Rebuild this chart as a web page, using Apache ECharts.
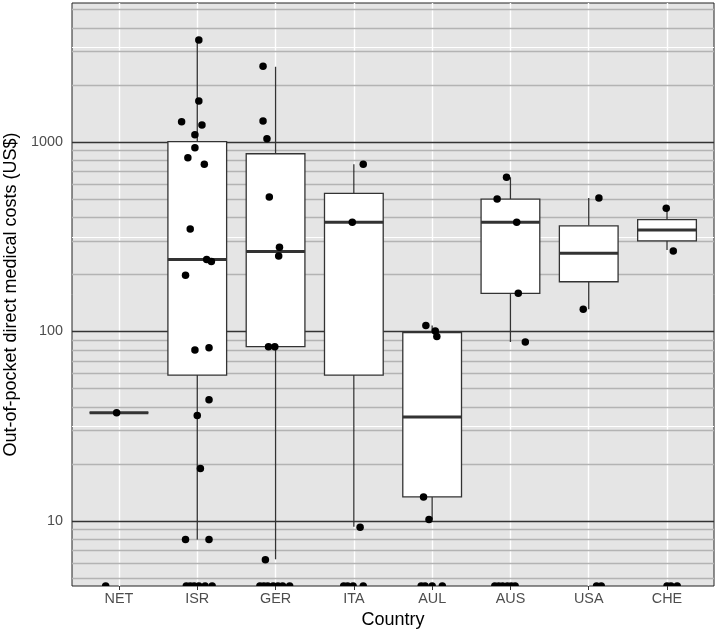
<!DOCTYPE html>
<html lang="en">
<head>
    <meta charset="UTF-8">
    <title>Out-of-pocket costs</title>
    <script src="https://cdn.jsdelivr.net/npm/echarts@6/dist/echarts.min.js"></script>
    <style>
        *{
            margin: 0;
            padding: 0;
        }
        html,body{
            width: 100%;
            height: 100%;
            background: #fff;
        }
        .main{
            width: 717px;
            height: 634px;
        }
    </style>
</head>
<body>
<div class="main"></div>
<script>
    // countries on the x axis
    let countries = ['NET', 'ISR', 'GER', 'ITA', 'AUL', 'AUS', 'USA', 'CHE'];

    // box stats per country: [lower whisker, Q1, median, Q3, upper whisker]
    let boxStats = [
        [37.3, 37.3, 37.3, 37.3, 37.3],
        [8.0, 58.9, 240, 1005, 3450],
        [6.28, 83.2, 264, 867, 2495],
        [9.33, 58.9, 377, 536, 762],
        [10.2, 13.4, 35.4, 98.6, 107.5],
        [88, 159, 377, 500, 651],
        [131, 183, 258.5, 361, 506],
        [269, 301, 343, 389, 447]
    ];

    // jittered points: [x position (category index + jitter), cost]
    let pointsNET = [[-0.03, 37.3]];
    let pointsISR = [[1.02, 3450], [1.02, 1645], [0.80, 1280], [1.06, 1229], [0.97, 1093], [0.97, 933],
        [0.88, 826], [1.09, 762], [0.91, 347], [1.12, 240], [1.18, 234], [0.85, 198], [0.97, 79.9],
        [1.15, 82.1], [1.15, 43.6], [1.00, 36], [1.04, 18.9], [0.85, 8.0], [1.15, 8.0]];
    let pointsGER = [[1.84, 2510], [1.84, 1291], [1.89, 1041], [1.92, 513], [2.05, 278], [2.04, 250],
        [1.91, 83], [1.99, 83], [1.87, 6.25]];
    let pointsITA = [[3.12, 762], [2.98, 377], [3.08, 9.28]];
    let pointsAUL = [[3.92, 107.5], [4.04, 100.6], [4.06, 94], [3.89, 13.4], [3.96, 10.2]];
    let pointsAUS = [[4.95, 651], [4.83, 500], [5.08, 377], [5.10, 159], [5.19, 88]];
    let pointsUSA = [[6.13, 506], [5.93, 131]];
    let pointsCHE = [[6.99, 447], [7.08, 266]];

    // zero costs (drawn on the lower panel edge like ggplot's -Inf): x positions
    let zerosX = [-0.17,
        0.86, 0.91, 0.96, 1.02, 1.10, 1.19,
        1.80, 1.85, 1.90, 1.97, 2.03, 2.09, 2.18,
        2.87, 2.92, 2.99, 3.12,
        3.86, 3.91, 4.00, 4.13,
        4.80, 4.85, 4.90, 4.96, 5.01, 5.06,
        6.10, 6.16,
        7.00, 7.05, 7.13];

    let yMin = 4.54, yMax = 5414;
    let majorLines = [10, 100, 1000];
    let minorLines = [5, 6, 7, 8, 9, 20, 30, 40, 50, 60, 70, 80, 90,
        200, 300, 400, 500, 600, 700, 800, 900, 2000, 3000, 4000, 5000];
    let whiteLines = [31.62, 316.2, 3162];
    let catIdx = countries.map((c, i) => i);

    let points = [].concat(pointsNET, pointsISR, pointsGER, pointsITA, pointsAUL, pointsAUS, pointsUSA, pointsCHE);
    let zeros = zerosX.map(x => [x, yMin]);
    let boxData = boxStats.map((s, i) => [i].concat(s));

    let hLine = (v, color, w) => ({yAxis: v, lineStyle: {color: color, width: w, type: 'solid'}});
    let lineData = [];
    catIdx.forEach(i => lineData.push({xAxis: i, lineStyle: {color: '#ffffff', width: 1.4, type: 'solid'}}));
    whiteLines.forEach(v => lineData.push(hLine(v, '#ffffff', 1)));
    minorLines.forEach(v => lineData.push(hLine(v, '#b3b3b3', 1.3)));
    majorLines.forEach(v => lineData.push(hLine(v, '#333333', 1.3)));

    let main = echarts.init(document.getElementsByClassName('main')[0]);
    let font = "'Liberation Sans', Arial, sans-serif";

    function renderBox(params, api) {
        let x = api.value(0);
        let lo = api.coord([x, api.value(1)]);
        let q1 = api.coord([x, api.value(2)]);
        let med = api.coord([x, api.value(3)]);
        let q3 = api.coord([x, api.value(4)]);
        let hi = api.coord([x, api.value(5)]);
        let left = api.coord([x - 0.375, api.value(3)])[0];
        let right = api.coord([x + 0.375, api.value(3)])[0];
        let stroke = {stroke: '#333333', lineWidth: 1.3};
        return {
            type: 'group',
            children: [
                {type: 'line', shape: {x1: hi[0], y1: hi[1], x2: q3[0], y2: q3[1]}, style: stroke},
                {type: 'line', shape: {x1: q1[0], y1: q1[1], x2: lo[0], y2: lo[1]}, style: stroke},
                {type: 'rect', shape: {x: left, y: q3[1], width: right - left, height: q1[1] - q3[1]},
                    style: {fill: '#ffffff', stroke: '#333333', lineWidth: 1.3}},
                {type: 'line', shape: {x1: left, y1: med[1], x2: right, y2: med[1]},
                    style: {stroke: '#333333', lineWidth: 3}}
            ]
        };
    }

    let option = {
        animation: false,
        backgroundColor: '#ffffff',
        textStyle: {fontFamily: font},
        grid: {
            left: 72,
            right: 3,
            top: 3,
            bottom: 48,
            containLabel: false,
            outerBoundsMode: 'none',
            show: true,
            backgroundColor: '#e5e5e5',
            borderColor: '#222222',
            borderWidth: 1
        },
        xAxis: {
            type: 'value',
            min: -0.6,
            max: 7.6,
            name: 'Country',
            nameLocation: 'middle',
            nameGap: 25,
            nameTextStyle: {color: '#000', fontSize: 18, fontFamily: font},
            axisLine: {show: false},
            splitLine: {show: false},
            axisTick: {show: true, customValues: catIdx, length: 4, lineStyle: {color: '#333333'}},
            axisLabel: {
                customValues: catIdx,
                formatter: v => countries[Math.round(v)],
                color: '#4d4d4d',
                fontSize: 14.4,
                margin: 6,
                fontFamily: font
            }
        },
        yAxis: {
            type: 'log',
            min: yMin,
            max: yMax,
            name: 'Out-of-pocket direct medical costs (US$)',
            nameLocation: 'middle',
            nameGap: 52,
            nameTextStyle: {color: '#000', fontSize: 18, fontFamily: font},
            axisLine: {show: false},
            splitLine: {show: false},
            minorSplitLine: {show: false},
            axisTick: {show: true, customValues: majorLines, length: 4, lineStyle: {color: '#333333'}},
            axisLabel: {
                customValues: majorLines,
                formatter: v => String(Math.round(v)),
                color: '#4d4d4d',
                fontSize: 14.4,
                margin: 9,
                fontFamily: font
            }
        },
        series: [
            {
                type: 'scatter',
                data: [],
                z: 1,
                silent: true,
                markLine: {
                    z: 1,
                    silent: true,
                    symbol: ['none', 'none'],
                    label: {show: false},
                    emphasis: {disabled: true},
                    animation: false,
                    data: lineData
                }
            },
            {
                type: 'custom',
                z: 2,
                data: boxData,
                renderItem: renderBox,
                encode: {x: 0, y: [1, 2, 3, 4, 5]},
                silent: true
            },
            {
                type: 'scatter',
                z: 3,
                data: points,
                symbolSize: 7.5,
                itemStyle: {color: '#000000', opacity: 1}
            },
            {
                // zeros sit on the panel edge, only the upper half shows
                type: 'scatter',
                z: 3,
                data: zeros,
                symbol: 'path://M0,1 A1,1 0 0 1 2,1 Z',
                symbolSize: [7.5, 3.75],
                symbolOffset: [0, -1.875],
                itemStyle: {color: '#000000', opacity: 1}
            }
        ]
    };
    main.setOption(option);
</script>
</body>
</html>
